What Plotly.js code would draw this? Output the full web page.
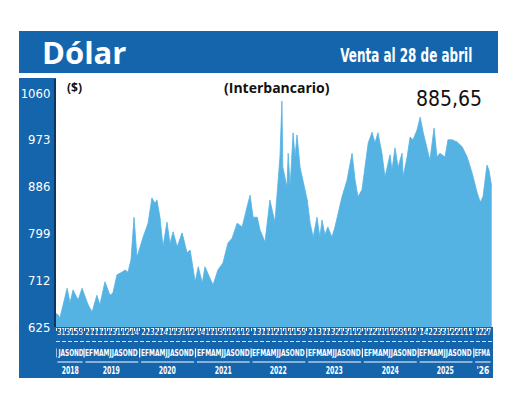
<!DOCTYPE html>
<html><head><meta charset="utf-8">
<script src="https://cdn.plot.ly/plotly-3.0.1.min.js"></script>
<style>html,body{margin:0;padding:0;background:#fff}#chart{width:520px;height:405px}</style>
</head><body><div id="chart"></div>
<script>
// ---- data ----
const dates = ['2018-07-01','2018-07-14','2018-07-27','2018-08-16','2018-09-12','2018-10-01','2018-10-21','2018-11-23','2018-12-19',
'2019-01-28','2019-02-23','2019-03-26','2019-04-15','2019-05-18','2019-06-20','2019-07-09','2019-08-05','2019-09-07','2019-09-27','2019-10-16','2019-11-05','2019-11-25','2019-12-14',
'2020-01-04','2020-01-23','2020-02-25','2020-03-21','2020-04-10','2020-04-23','2020-05-13','2020-06-02','2020-06-28','2020-07-18','2020-08-07','2020-09-03','2020-10-05','2020-11-07','2020-11-27','2020-12-30',
'2021-01-19','2021-02-15','2021-03-04','2021-04-06','2021-04-26','2021-05-28','2021-06-30','2021-08-02','2021-08-29','2021-10-01','2021-11-03','2021-12-05','2021-12-25',
'2022-01-14','2022-02-10','2022-03-01','2022-04-02','2022-05-04','2022-06-06','2022-06-26','2022-07-09','2022-07-22','2022-07-28','2022-08-24','2022-09-01','2022-09-14','2022-10-03','2022-10-16','2022-10-29','2022-11-18','2022-12-08',
'2023-01-04','2023-01-23','2023-02-12','2023-03-09','2023-03-28','2023-04-11','2023-04-30','2023-05-19','2023-06-15','2023-07-05','2023-07-24','2023-08-20','2023-09-22','2023-10-25','2023-11-14','2023-12-03','2023-12-29',
'2024-01-18','2024-02-08','2024-03-04','2024-03-23','2024-04-12','2024-05-08','2024-05-28','2024-06-30','2024-07-13','2024-08-02','2024-08-22','2024-09-17','2024-09-24','2024-10-20','2024-11-09','2024-11-28','2024-12-24',
'2025-01-14','2025-02-03','2025-02-28','2025-03-19','2025-04-15','2025-05-04','2025-05-23','2025-06-26','2025-07-15','2025-08-11','2025-09-13','2025-10-16','2025-11-18','2025-12-21',
'2026-01-23','2026-02-12','2026-03-02','2026-03-28','2026-04-10','2026-04-28'];
const values = [650,648,642,668,697,670,694,675,697,
666,653,684,666,709,684,688,722,727,731,727,750,829,755,
774,792,818,865,855,861,829,774,820,780,802,774,800,763,768,709,
737,707,737,716,703,731,744,781,790,818,811,848,870,
829,829,805,783,861,820,893,941,1045,922,885,948,885,986,941,982,922,893,
861,818,792,829,792,824,796,811,792,811,837,867,898,948,898,867,880,
922,967,987,967,986,948,904,945,917,958,922,948,904,941,978,973,991,
1015,986,954,935,995,941,948,941,973,973,969,960,941,911,
874,857,867,926,917,885.65];
const yTicks = [625,712,799,886,973,1060];
const yTickText = ['625','712','799','886','973','1060'];
const monthLetters = ['E','F','M','A','M','J','J','A','S','O','N','D'];
const monthDigits = ['3','1','3','1','5','3',
'2','1','1','1','1','1','3','1','1','2','1','4',
'2','2','3','2','1','4','1','1','3','1','1','2',
'1','4','1','1','1','3','1','1','2','1','1','2',
'1','3','1','1','1','2','1','1','1','1','5','3',
'2','1','3','1','1','3','2','1','3','1','1','2',
'1','1','2','1','1','1','1','2','3','1','1','2',
'1','4','2','2','3','3','1','2','2','1','1','1',
'1','2','2','7'];
const yearLabels = ['2018','2019','2020','2021','2022','2023','2024','2025',"'26"];
const yearNums = [2018,2019,2020,2021,2022,2023,2024,2025,2026];
const startDate = '2018-07-01', endDate = '2026-04-30';
const titleText = 'Dólar';
const subtitleText = 'Venta al 28 de abril';
const seriesName = '(Interbancario)';
const unitText = '($)';
const lastValueText = '885,65';

// ---- layout helpers ----
const L=56, R=492, T=79, B=327, W=R-L, H=B-T;
const fx = p => (p-L)/W, fy = p => (B-p)/H;
const BLUE = '#1565ad', LIGHT = '#54b3e3', COND = 'DejaVu Sans Condensed, sans-serif';
const pad2 = n => (n<10?'0':'')+n;
const iso = ms => new Date(ms).toISOString().slice(0,10);
const t0 = Date.parse(startDate), t1 = Date.parse(endDate);
const pxOf = ms => (ms - t0) / (t1 - t0) * W;   // pixel length along the date axis

const monthList = [];
for (let y=2018, m=7; y<2026 || (y===2026 && m<=4); ) {
  monthList.push({y, m});
  m++; if (m>12) { m=1; y++; }
}
const monthStarts = monthList.map(o => `${o.y}-${pad2(o.m)}-01`);

const shapes = [
  {type:'rect', xref:'paper', yref:'paper', x0:fx(19), x1:fx(498), y0:fy(73), y1:fy(31), fillcolor:BLUE, line:{width:0}, layer:'below'},
  {type:'rect', xref:'paper', yref:'paper', x0:fx(19), x1:fx(L), y0:fy(378), y1:fy(78), fillcolor:BLUE, line:{width:0}, layer:'below'},
  {type:'rect', xref:'paper', yref:'paper', x0:fx(19), x1:fx(493), y0:fy(378), y1:fy(B), fillcolor:BLUE, line:{width:0}, layer:'below'},
  {type:'line', xref:'paper', yref:'paper', x0:0, x1:1, y0:fy(341.5), y1:fy(341.5), line:{color:'rgba(255,255,255,0.8)', width:1, dash:'4px,2px'}, layer:'below'}
];
const squeeze = {};
const annotations = [
  {text:titleText, xref:'paper', yref:'paper', x:fx(40), y:fy(52), xanchor:'left', yanchor:'middle', showarrow:false, font:{family:'Open Sans, sans-serif', size:31, color:'#fff', weight:'bold'}},
  {text:subtitleText, xref:'paper', yref:'paper', x:fx(406), y:fy(55), xanchor:'center', yanchor:'middle', showarrow:false, font:{family:COND, size:17, color:'#fff', weight:'bold'}},
  {text:seriesName, xref:'paper', yref:'paper', x:fx(277), y:fy(87), xanchor:'center', yanchor:'middle', showarrow:false, font:{family:'Open Sans, sans-serif', size:14, color:'#111', weight:'bold'}},
  {text:unitText, xref:'paper', yref:'paper', x:fx(65), y:fy(87), xanchor:'left', yanchor:'middle', showarrow:false, font:{family:'Open Sans, sans-serif', size:12, color:'#111', weight:'bold'}},
  {text:lastValueText, xref:'paper', yref:'paper', x:fx(484), y:fy(99), xanchor:'right', yanchor:'middle', showarrow:false, font:{family:COND, size:21, color:'#111'}}
];
squeeze[1] = {w:132, sy:1.1};
const DAY = 86400000;
yearNums.forEach((y,i) => {
  const s = Math.max(Date.parse(`${y}-01-01`), t0);
  const e = Math.min(Date.parse(`${y+1}-01-01`), t1);
  const segW = pxOf(e) - pxOf(s);
  const idx = monthList.map((o,k) => o.y===y ? k : -1).filter(k => k>=0);
  const letters = idx.map(k => monthLetters[monthList[k].m-1]).join('');
  const digits = idx.map(k => monthDigits[k]).join('');
  const mid = iso((s+e)/2);
  shapes.push({type:'line', xref:'x', yref:'paper', x0:iso(s+9*DAY), x1:iso(e-9*DAY), y0:fy(362), y1:fy(362), line:{color:'#fff', width:1}, layer:'below'});
  shapes.push({type:'line', xref:'x', yref:'paper', x0:iso(s), x1:iso(s), y0:fy(348.5), y1:fy(357.5), line:{color:'#fff', width:1.2}, layer:'below'});
  squeeze[annotations.length] = {w:segW-3, sy:1.45};
  annotations.push({text:letters, x:mid, xref:'x', yref:'paper', y:fy(353), xanchor:'center', yanchor:'middle', showarrow:false, font:{family:COND, size:6.6, color:'#fff', weight:'bold'}});
  squeeze[annotations.length] = {w:segW-2, sy:1.35};
  annotations.push({text:digits, x:mid, xref:'x', yref:'paper', y:fy(332), xanchor:'center', yanchor:'middle', showarrow:false, font:{family:COND, size:7, color:'#fff'}});
  squeeze[annotations.length] = {w:yearLabels[i].length * 4.3, sy:1.1};
  annotations.push({text:yearLabels[i], x:mid, xref:'x', yref:'paper', y:fy(370.5), xanchor:'center', yanchor:'middle', showarrow:false, font:{family:COND, size:9, color:'#fff', weight:'bold'}});
});

const trace = {type:'scatter', mode:'lines', x:dates, y:values, fill:'tozeroy', fillcolor:LIGHT, line:{color:LIGHT, width:0.8}, hoverinfo:'skip'};
const layout = {
  width:520, height:405, margin:{l:L, r:520-R, t:T, b:405-B, pad:0},
  paper_bgcolor:'#fff', plot_bgcolor:'#fff', showlegend:false,
  xaxis:{type:'date', range:[startDate, endDate], tickvals:monthStarts, ticks:'outside', ticklen:3, tickwidth:1, tickcolor:'#fff', showticklabels:false, showgrid:false, zeroline:false, showline:false, fixedrange:true},
  yaxis:{range:[625,1086], tickvals:yTicks, ticktext:yTickText, ticks:'', showgrid:false, zeroline:false, showline:true, linecolor:'#0b3563', linewidth:2, tickfont:{family:COND, size:13, color:'#fff'}, ticklabelstandoff:1, fixedrange:true},
  shapes, annotations
};
Plotly.newPlot('chart', [trace], layout, {displayModeBar:false, staticPlot:true}).then(() => {
  document.querySelectorAll('#chart g.annotation').forEach(g => {
    const q = squeeze[+g.getAttribute('data-index')];
    const t = g.querySelector('text.annotation-text');
    if (!q || !t) return;
    t.setAttribute('textLength', q.w);
    t.setAttribute('lengthAdjust', 'spacingAndGlyphs');
    t.style.transformBox = 'fill-box';
    t.style.transformOrigin = 'center';
    t.style.transform = `scaleY(${q.sy})`;
  });
});
</script></body></html>
